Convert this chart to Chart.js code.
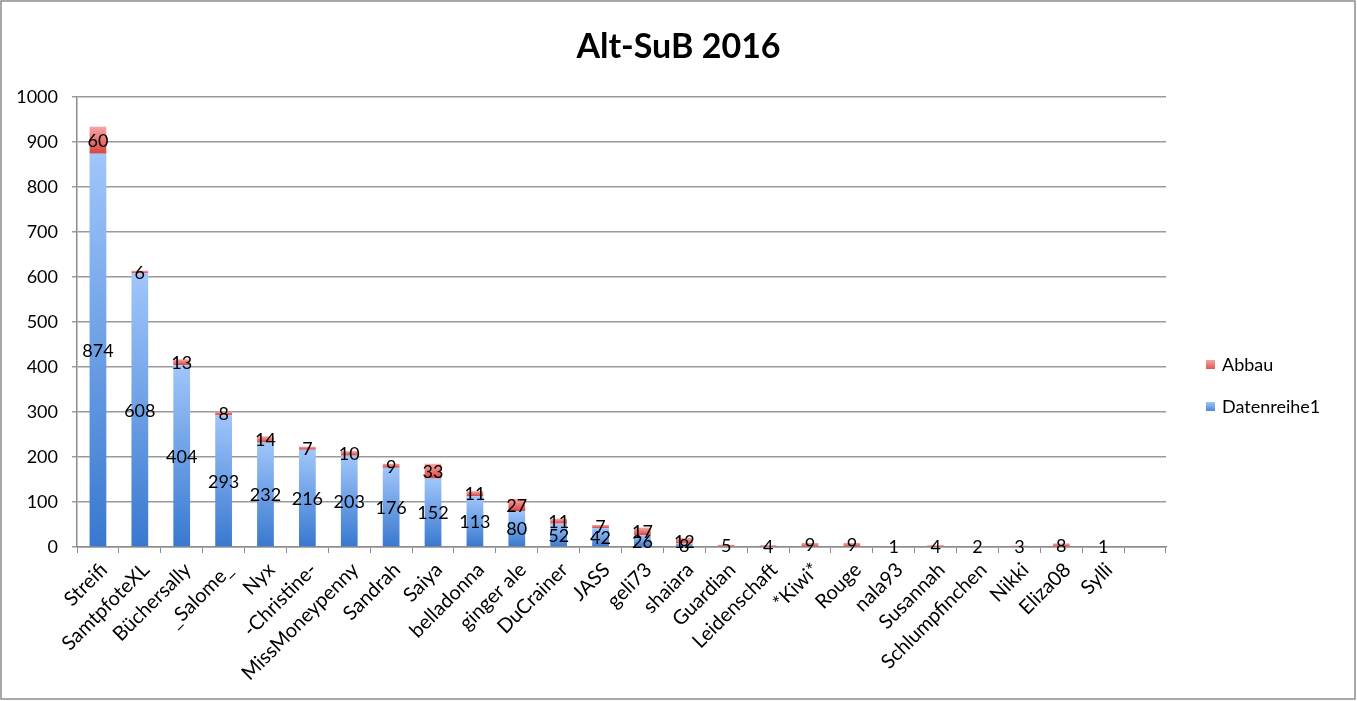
<!DOCTYPE html>
<html>
<head>
<meta charset="utf-8">
<script src="https://cdn.jsdelivr.net/npm/chart.js@4"></script>
<style>
  html, body { margin: 0; padding: 0; background: #fff; }
  #wrap { width: 1357px; height: 701px; }
</style>
</head>
<body>
<div id="wrap"><canvas id="myChart" width="1357" height="701"></canvas></div>
<script>
const names = ['Streifi', 'SamtpfoteXL', 'Büchersally', '_Salome_', 'Nyx', '-Christine-', 'MissMoneypenny',
  'Sandrah', 'Saiya', 'belladonna', 'ginger ale', 'DuCrainer', 'JASS', 'geli73', 'shaiara', 'Guardian',
  'Leidenschaft', '*Kiwi*', 'Rouge', 'nala93', 'Susannah', 'Schlumpfinchen', 'Nikki', 'Eliza08', 'Sylli', '']
const datenreihe1 = [874, 608, 404, 293, 232, 216, 203, 176, 152, 113, 80, 52, 42, 26, 8,
  null, null, null, null, null, null, null, null, null, null, null]
const abbau = [60, 6, 13, 8, 14, 7, 10, 9, 33, 11, 27, 11, 7, 17, 12,
  5, 4, 9, 9, 1, 4, 2, 3, 8, 1, null]
const yTicks = [0, 100, 200, 300, 400, 500, 600, 700, 800, 900, 1000]
const title = 'Alt-SuB 2016'

const font = 'Lato, "Open Sans", sans-serif'

// gradient per bar, dark at the bottom, light at the top
function barGradient(c, lo, hi, bottomCol, topCol) {
  const chart = c.chart
  const ys = chart.scales.y
  if (!ys || c.dataIndex === undefined) return bottomCol
  const y0 = ys.getPixelForValue(lo)
  let y1 = ys.getPixelForValue(hi)
  if (!isFinite(y0) || !isFinite(y1)) return bottomCol
  if (Math.abs(y1 - y0) < 1) y1 = y0 - 1
  const g = chart.ctx.createLinearGradient(0, y0, 0, y1)
  g.addColorStop(0, bottomCol)
  g.addColorStop(1, topCol)
  return g
}

const labelPlugin = {
  id: 'valueLabels',
  afterDatasetsDraw(chart) {
    const ctx = chart.ctx
    ctx.save()
    ctx.font = '18px ' + font
    ctx.fillStyle = '#000'
    ctx.textAlign = 'center'
    ctx.textBaseline = 'middle'
    chart.data.datasets.forEach((ds, di) => {
      const meta = chart.getDatasetMeta(di)
      meta.data.forEach((bar, i) => {
        const v = ds.data[i]
        if (v === null || v === undefined) return
        ctx.fillText(String(v), bar.x, (bar.y + bar.base) / 2 + 1)
      })
    })
    ctx.restore()
  }
}

// frame, centred title and the legend on the right
const frameLegendPlugin = {
  id: 'frameLegend',
  beforeDraw(chart) {
    const ctx = chart.ctx
    ctx.save()
    ctx.fillStyle = '#fff'
    ctx.fillRect(0, 0, chart.width, chart.height)
    ctx.strokeStyle = '#8c8c8c'
    ctx.lineWidth = 1.5
    ctx.strokeRect(1, 1, chart.width - 3, chart.height - 3)
    ctx.restore()
  },
  afterDraw(chart) {
    const ctx = chart.ctx
    ctx.save()
    ctx.font = 'bold 34px ' + font
    ctx.fillStyle = '#000'
    ctx.textAlign = 'center'
    ctx.textBaseline = 'middle'
    ctx.fillText(title, chart.width / 2, 47)

    const items = [
      { text: chart.data.datasets[1].label, top: '#f4a3a3', bottom: '#d9504d', y: 365 },
      { text: chart.data.datasets[0].label, top: '#9fc5f8', bottom: '#4682d2', y: 407 }
    ]
    ctx.font = '18px ' + font
    ctx.textAlign = 'left'
    items.forEach(it => {
      const g = ctx.createLinearGradient(0, it.y + 5, 0, it.y - 5)
      g.addColorStop(0, it.bottom)
      g.addColorStop(1, it.top)
      ctx.fillStyle = g
      ctx.fillRect(1206, it.y - 5, 9, 9)
      ctx.fillStyle = '#000'
      ctx.fillText(it.text, 1222, it.y)
    })
    ctx.restore()
  }
}

const ctx = document.getElementById('myChart')
new Chart(ctx, {
  type: 'bar',
  data: {
    labels: names,
    datasets: [{
      label: 'Datenreihe1',
      data: datenreihe1,
      backgroundColor: c => barGradient(c, 0, datenreihe1[c.dataIndex] || 0, '#3878cf', '#a0c6fb'),
      borderWidth: 0
    }, {
      label: 'Abbau',
      data: abbau,
      backgroundColor: c => {
        const base = datenreihe1[c.dataIndex] || 0
        return barGradient(c, base, base + (abbau[c.dataIndex] || 0), '#d6463f', '#f6a6a6')
      },
      borderWidth: 0
    }]
  },
  options: {
    responsive: false,
    animation: false,
    events: [],
    layout: { padding: { left: 0, right: 191, top: 97, bottom: 0 } },
    datasets: {
      bar: { categoryPercentage: 1, barPercentage: 0.4 }
    },
    plugins: {
      legend: { display: false },
      tooltip: { enabled: false },
      title: { display: false }
    },
    scales: {
      x: {
        stacked: true,
        afterFit: s => { s.height = 154 },
        grid: { drawOnChartArea: false, drawTicks: true, tickLength: 6, offset: true, color: '#8c8c8c', lineWidth: 1 },
        border: { color: '#8c8c8c', width: 1.5 },
        ticks: {
          autoSkip: false,
          maxRotation: 45,
          minRotation: 45,
          padding: 5,
          labelOffset: 6,
          color: '#000',
          font: { family: font, size: 20 }
        }
      },
      y: {
        stacked: true,
        min: 0,
        max: 1000,
        afterFit: s => { s.width = 77 },
        afterBuildTicks: s => { s.ticks = yTicks.map(v => ({ value: v })) },
        grid: { color: '#9a9a9a', lineWidth: 1.5, tickLength: 5 },
        border: { color: '#8c8c8c', width: 1.5 },
        ticks: {
          padding: 14,
          color: '#000',
          font: { family: font, size: 18 },
          callback: v => String(v)
        }
      }
    }
  },
  plugins: [labelPlugin, frameLegendPlugin]
})
</script>
</body>
</html>
